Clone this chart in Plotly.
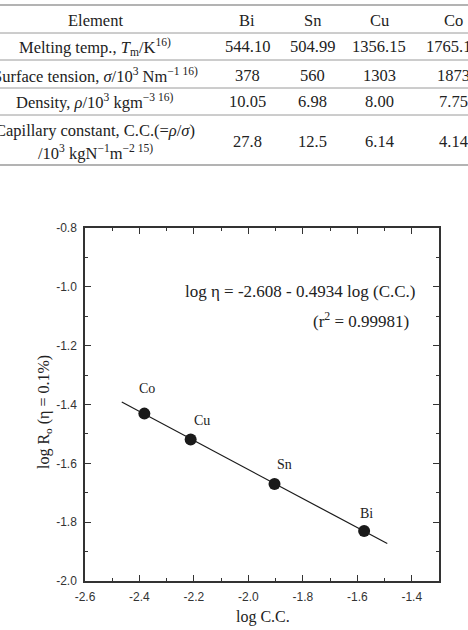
import plotly.graph_objects as go

# ---------------- data ----------------
elements = ["Bi", "Sn", "Cu", "Co"]
melting_temp = ["544.10", "504.99", "1356.15", "1765.15"]
surface_tension = ["378", "560", "1303", "1873"]
density = ["10.05", "6.98", "8.00", "7.75"]
capillary_const = ["27.8", "12.5", "6.14", "4.14"]

row_labels = [
    "Element",
    "Melting temp., <i>T</i><sub>m</sub>/K<sup>16)</sup>",
    "Surface tension, <i>σ</i>/10<sup>3</sup> Nm<sup>−1 16)</sup>",
    "Density, <i>ρ</i>/10<sup>3</sup> kgm<sup>−3 16)</sup>",
    "Capillary constant, C.C.(=<i>ρ</i>/<i>σ</i>)",
    "/10<sup>3</sup> kgN<sup>−1</sup>m<sup>−2 15)</sup>",
]

log_cc = [-1.575, -1.904, -2.212, -2.382]        # Bi, Sn, Cu, Co
log_ro = [-1.830, -1.670, -1.519, -1.431]

# regression line: y = -2.608 - 0.4934 * x  (as printed on the chart)
fit_intercept = -2.608
fit_slope = -0.4934
fit_x = [-2.465, -1.49]
fit_y = [fit_intercept + fit_slope * x for x in fit_x]

x_ticks = [-2.6, -2.4, -2.2, -2.0, -1.8, -1.6, -1.4]
y_ticks = [-0.8, -1.0, -1.2, -1.4, -1.6, -1.8, -2.0]

# ---------------- layout helpers ----------------
SERIF = "Liberation Serif"
SANS = "Liberation Sans"
ML, MR, MT, MB = 85, 29, 228, 49
FW, FH = 468, 630
PW, PH = FW - ML - MR, FH - MT - MB


def xp(px):
    return (px - ML) / PW


def yp(py):
    return (FH - MB - py) / PH


fig = go.Figure()

fig.add_trace(go.Scatter(
    x=fit_x, y=fit_y, mode="lines",
    line=dict(color="#1a1a1a", width=1.2), showlegend=False, hoverinfo="skip"))

fig.add_trace(go.Scatter(
    x=log_cc, y=log_ro, mode="markers",
    marker=dict(size=12, color="#1a1a1a"), showlegend=False))

annotations = []
label_offsets = [(2, 17), (10, 19), (11, 19), (3, 25)]
for el, xv, yv, (dx, dy) in zip(elements, log_cc, log_ro, label_offsets):
    annotations.append(dict(x=xv, y=yv, xref="x", yref="y", text=el, showarrow=False,
                            xshift=dx, yshift=dy, font=dict(family=SERIF, size=14, color="#222")))

annotations.append(dict(x=xp(300.5), y=yp(291.7), xref="paper", yref="paper",
                        text="log η = -2.608 - 0.4934 log (C.C.)", showarrow=False,
                        xanchor="center", yanchor="middle",
                        font=dict(family=SERIF, size=17, color="#222")))
annotations.append(dict(x=xp(411), y=yp(320), xref="paper", yref="paper",
                        text="(r<sup>2</sup> = 0.99981)", showarrow=False,
                        xanchor="right", yanchor="middle",
                        font=dict(family=SERIF, size=17, color="#222")))

annotations.append(dict(x=xp(262.5), y=yp(616.7), xref="paper", yref="paper",
                        text="log C.C.", showarrow=False, xanchor="center", yanchor="middle",
                        font=dict(family=SERIF, size=16, color="#222")))
annotations.append(dict(x=xp(44), y=yp(412), xref="paper", yref="paper",
                        text="log R<sub>o</sub> (η = 0.1%)", showarrow=False, textangle=-90,
                        xanchor="center", yanchor="middle",
                        font=dict(family=SERIF, size=16, color="#222")))

# ---------------- table ----------------
col_x = [247, 312, 379, 453]
label_x = 95
row_y = [20, 47, 75, 102, 142]
label_y = [20, 47, 75, 102, 131, 152]
tfont = dict(family=SERIF, size=16.5, color="#222")
for lab, ly in zip(row_labels, label_y):
    annotations.append(dict(x=xp(label_x), y=yp(ly), xref="paper", yref="paper", text=lab,
                            showarrow=False, xanchor="center", yanchor="middle", font=tfont))
rows = [elements, melting_temp, surface_tension, density, capillary_const]
for vals, ry in zip(rows, row_y):
    for v, cx in zip(vals, col_x):
        annotations.append(dict(x=xp(cx), y=yp(ry), xref="paper", yref="paper", text=v,
                                showarrow=False, xanchor="center", yanchor="middle", font=tfont))

shapes = []
for ly, w in [(5, 1.5), (33, 1), (60, 1), (88, 1), (115, 1), (165, 1.5)]:
    shapes.append(dict(type="line", xref="paper", yref="paper", x0=xp(0), x1=xp(FW),
                       y0=yp(ly), y1=yp(ly), line=dict(color="#9a9a9a", width=w)))

axis_common = dict(
    showline=True, linecolor="#333", linewidth=1.5, mirror="allticks",
    ticks="inside", ticklen=6, tickwidth=1.2, tickcolor="#333",
    showgrid=False, zeroline=False,
    tickfont=dict(family=SANS, size=12, color="#333"),
    minor=dict(ticks="inside", ticklen=3, tickwidth=1.2, tickcolor="#333", dtick=0.1, showgrid=False),
)

fig.update_layout(
    width=FW, height=FH,
    margin=dict(l=ML, r=MR, t=MT, b=MB),
    paper_bgcolor="white", plot_bgcolor="white",
    xaxis=dict(range=[-2.6, -1.3], tickvals=x_ticks, ticktext=[f"{v:.1f}" for v in x_ticks],
               ticklabelstandoff=4, **axis_common),
    yaxis=dict(range=[-2.0, -0.8], tickvals=y_ticks, ticktext=[f"{v:.1f}" for v in y_ticks],
               ticklabelstandoff=4, **axis_common),
    annotations=annotations, shapes=shapes, showlegend=False,
)

fig.write_html("out.html")
